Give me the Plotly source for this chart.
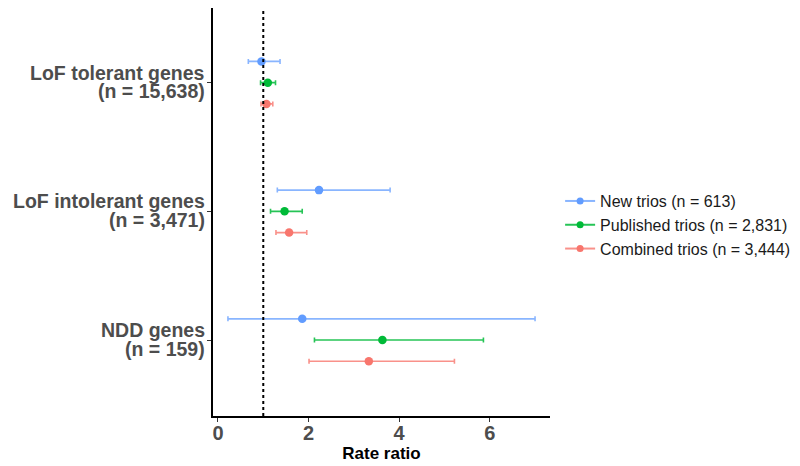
import plotly.graph_objects as go

# category order bottom -> top
cat_line1 = ["NDD genes", "LoF intolerant genes", "LoF tolerant genes"]
cat_line2 = ["(n = 159)", "(n = 3,471)", "(n = 15,638)"]
series_names = ["New trios (n = 613)", "Published trios (n = 2,831)", "Combined trios (n = 3,444)"]

# values in category order: NDD, LoF intolerant, LoF tolerant
new_rr = [1.86, 2.23, 0.96]
new_lo = [0.22, 1.31, 0.67]
new_hi = [7.00, 3.80, 1.37]

pub_rr = [3.63, 1.47, 1.10]
pub_lo = [2.13, 1.16, 0.94]
pub_hi = [5.86, 1.86, 1.27]

comb_rr = [3.33, 1.57, 1.07]
comb_lo = [2.01, 1.28, 0.95]
comb_hi = [5.22, 1.96, 1.21]

x_ticks = [0, 2, 4, 6]

colors = ["#619CFF", "#00BA38", "#F8766D"]
err_colors = ["rgba(97,156,255,0.75)", "rgba(0,186,56,0.85)", "rgba(248,118,109,0.8)"]
dodge = [0.165, 0.0, -0.165]

series = [(new_rr, new_lo, new_hi), (pub_rr, pub_lo, pub_hi), (comb_rr, comb_lo, comb_hi)]
FONT = "Liberation Sans, Arial, sans-serif"

fig = go.Figure()
base_y = list(range(len(cat_line1)))
for i, (rr, lo, hi) in enumerate(series):
    ys = [b + dodge[i] for b in base_y]
    fig.add_trace(go.Scatter(
        x=rr, y=ys, mode="markers",
        marker=dict(color=colors[i], size=8.5),
        error_x=dict(type="data", symmetric=False,
                     array=[h - r for h, r in zip(hi, rr)],
                     arrayminus=[r - l for r, l in zip(rr, lo)],
                     color=err_colors[i], thickness=1.6, width=2.5),
        showlegend=False, hoverinfo="x+name", name=series_names[i]))
for i in range(3):
    fig.add_trace(go.Scatter(
        x=[None], y=[None], mode="lines+markers",
        marker=dict(color=colors[i], size=7),
        line=dict(color=err_colors[i], width=2),
        name=series_names[i], showlegend=True))

fig.add_shape(type="line", xref="x", yref="paper", x0=1, x1=1, y0=0, y1=1,
              line=dict(color="black", width=2, dash="dot"))

# two-line category labels with tight line spacing
for b, l1, l2 in zip(base_y, cat_line1, cat_line2):
    for txt, ysh in ((l1, 10), (l2, -8.5)):
        fig.add_annotation(x=0, xref="paper", xanchor="right", xshift=-6,
                           y=b, yref="y", yanchor="middle", yshift=ysh,
                           text="<b>" + txt + "</b>", showarrow=False,
                           font=dict(size=19.5, color="#4d4d4d", family=FONT))

# the page body adds an 8px margin, so the figure is sized to fit the 800x466 window
fig.update_layout(
    width=792, height=458,
    margin=dict(l=205, r=250, t=0, b=50, autoexpand=False),
    plot_bgcolor="white", paper_bgcolor="white",
    font=dict(family=FONT),
    xaxis=dict(range=[-0.11, 7.33], tickvals=x_ticks, ticks="outside", ticklen=4,
               tickcolor="#333333", showgrid=False, zeroline=False, automargin=False,
               showline=True, linecolor="black", linewidth=1.5, ticklabelstandoff=-6,
               tickfont=dict(size=20, color="#4d4d4d", family=FONT, weight="bold"),
               title=dict(text="<b>Rate ratio</b>", font=dict(size=17, color="black"), standoff=0)),
    yaxis=dict(range=[-0.59, 2.58], tickvals=base_y, showticklabels=False,
               ticks="outside", ticklen=4, tickcolor="#333333", showgrid=False, zeroline=False,
               automargin=False, showline=True, linecolor="black", linewidth=1.5),
    legend=dict(x=1.03, y=0.468, xanchor="left", yanchor="middle",
                font=dict(size=16, color="#1a1a1a", family=FONT), tracegroupgap=0),
)

fig.write_html("out.html")
